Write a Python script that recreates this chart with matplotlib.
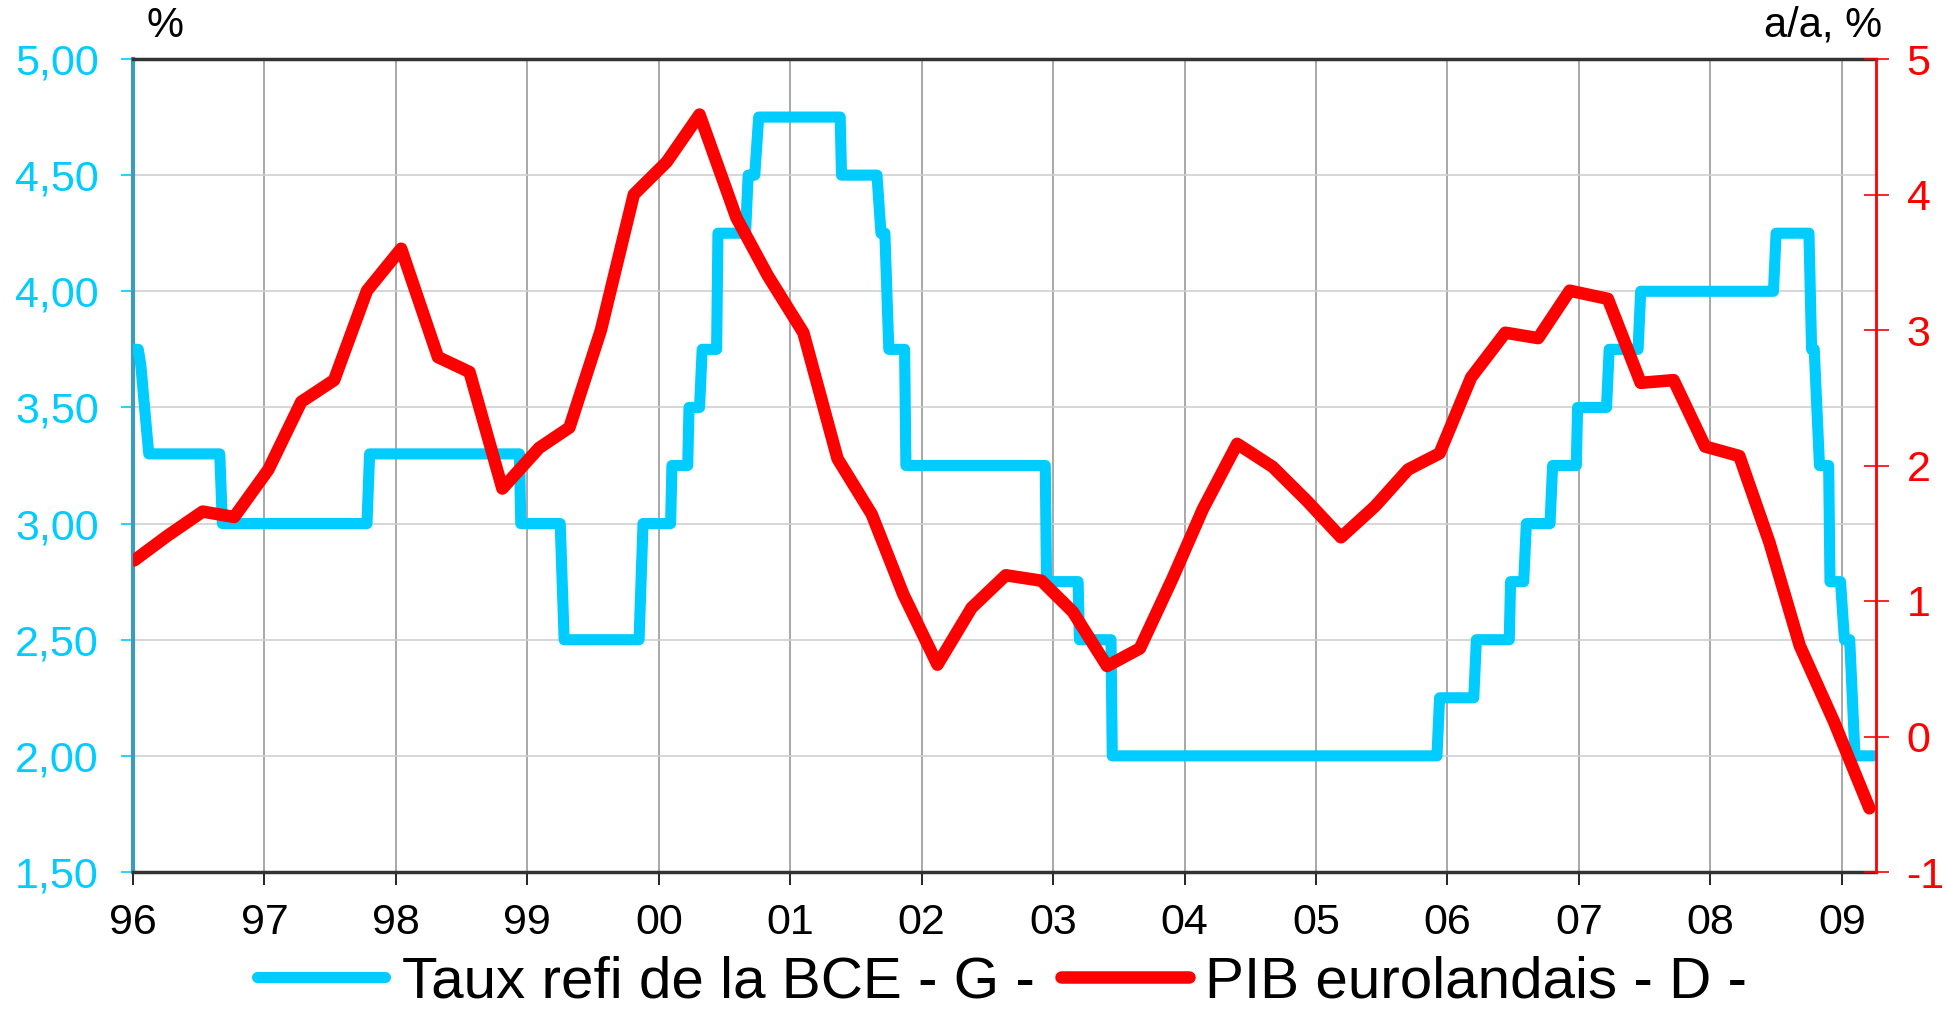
import matplotlib
matplotlib.use("Agg")
import matplotlib.pyplot as plt
import numpy as np

plt.rcParams['font.family'] = ['Liberation Sans', 'DejaVu Sans']

# ECB refi rate (left axis), polyline vertices
refi_dates = [1996.00, 1996.04, 1996.06, 1996.08, 1996.12, 1996.66, 1996.68, 1997.78, 1997.80,
              1998.94, 1998.95, 1999.25, 1999.28, 1999.85, 1999.88, 2000.09, 2000.10, 2000.22,
              2000.23, 2000.31, 2000.33, 2000.44, 2000.45, 2000.66, 2000.68, 2000.73, 2000.76,
              2001.38, 2001.39, 2001.66, 2001.69, 2001.72, 2001.75, 2001.87, 2001.88, 2002.94,
              2002.95, 2003.19, 2003.20, 2003.44, 2003.45, 2005.92, 2005.94, 2006.20, 2006.22,
              2006.47, 2006.48, 2006.58, 2006.60, 2006.78, 2006.80, 2006.98, 2006.99, 2007.21,
              2007.23, 2007.45, 2007.47, 2008.48, 2008.50, 2008.75, 2008.77, 2008.79, 2008.83,
              2008.90, 2008.91, 2008.99, 2009.02, 2009.06, 2009.10, 2009.25]
refi_values = [3.75, 3.75, 3.68, 3.55, 3.30, 3.30, 3.00, 3.00, 3.30,
               3.30, 3.00, 3.00, 2.50, 2.50, 3.00, 3.00, 3.25, 3.25,
               3.50, 3.50, 3.75, 3.75, 4.25, 4.25, 4.50, 4.50, 4.75,
               4.75, 4.50, 4.50, 4.25, 4.25, 3.75, 3.75, 3.25, 3.25,
               2.75, 2.75, 2.50, 2.50, 2.00, 2.00, 2.25, 2.25, 2.50,
               2.50, 2.75, 2.75, 3.00, 3.00, 3.25, 3.25, 3.50, 3.50,
               3.75, 3.75, 4.00, 4.00, 4.25, 4.25, 3.75, 3.75, 3.25,
               3.25, 2.75, 2.75, 2.50, 2.50, 2.00, 2.00]

# Euro-area GDP y/y (right axis), quarterly
gdp_dates = [1996.01, 1996.26, 1996.53, 1996.77, 1997.03, 1997.28, 1997.53, 1997.78, 1998.04,
             1998.32, 1998.56, 1998.81, 1999.09, 1999.32, 1999.56, 1999.81, 2000.06, 2000.31,
             2000.59, 2000.83, 2001.10, 2001.36, 2001.62, 2001.86, 2002.12, 2002.38, 2002.64,
             2002.91, 2003.15, 2003.41, 2003.66, 2003.91, 2004.14, 2004.40, 2004.67, 2004.93,
             2005.19, 2005.45, 2005.70, 2005.94, 2006.18, 2006.44, 2006.69, 2006.93, 2007.22,
             2007.47, 2007.72, 2007.96, 2008.22, 2008.45, 2008.68, 2008.94, 2009.21]
gdp_values = [1.30, 1.48, 1.66, 1.62, 1.97, 2.47, 2.63, 3.29, 3.60,
              2.80, 2.69, 1.83, 2.13, 2.28, 3.00, 4.00, 4.24, 4.59,
              3.83, 3.40, 2.98, 2.05, 1.64, 1.05, 0.53, 0.95, 1.19,
              1.15, 0.92, 0.52, 0.65, 1.17, 1.68, 2.16, 1.99, 1.74,
              1.47, 1.70, 1.97, 2.09, 2.65, 2.98, 2.94, 3.29, 3.23,
              2.61, 2.63, 2.14, 2.07, 1.43, 0.67, 0.11, -0.53]

year_ticks = list(range(1996, 2010))
year_labels = ["96", "97", "98", "99", "00", "01", "02", "03", "04", "05", "06", "07", "08", "09"]
left_ticks = [1.5, 2.0, 2.5, 3.0, 3.5, 4.0, 4.5, 5.0]
right_ticks = [-1, 0, 1, 2, 3, 4, 5]
series_labels = ["Taux refi de la BCE - G -", "PIB eurolandais - D -"]

BLUE = "#00CCFF"
RED = "#FF0000"

fig = plt.figure(figsize=(19.48, 10.15), dpi=100)
ax = fig.add_axes([133 / 1948, 1 - 872 / 1015, (1876 - 133) / 1948, (872 - 59) / 1015])

l1, = ax.plot(refi_dates, refi_values, color=BLUE, lw=8, solid_capstyle="round",
              solid_joinstyle="round", label=series_labels[0], zorder=3)
ax.set_xlim(1996, 2009.26)
ax.set_ylim(1.5, 5.0)
ax.set_xticks(year_ticks)
ax.set_xticklabels(year_labels)
ax.set_yticks(left_ticks)
ax.set_yticklabels([f"{v:.2f}".replace(".", ",") for v in left_ticks])
ax.grid(axis="x", color="#9a9a9a", lw=1.2)
ax.grid(axis="y", color="#cfcfcf", lw=1.2)
ax.set_axisbelow(True)

ax.tick_params(axis="y", colors=BLUE, labelcolor=BLUE, labelsize=31, length=9, width=1.2,
               direction="out", pad=15.5)
ax.tick_params(axis="x", colors="black", labelsize=31, length=9, width=1.2,
               direction="out", pad=13)
for s in ["top", "bottom"]:
    ax.spines[s].set_color("#333333")
    ax.spines[s].set_linewidth(2.5)
ax.spines["left"].set_color("#3d9bbd")
ax.spines["left"].set_linewidth(3)
ax.spines["right"].set_visible(False)

ax2 = ax.twinx()
l2, = ax2.plot(gdp_dates, gdp_values, color=RED, lw=9, solid_capstyle="round",
               solid_joinstyle="round", label=series_labels[1], zorder=3)
ax2.set_ylim(-1, 5)
ax2.set_yticks(right_ticks)
ax2.set_yticklabels([str(v) for v in right_ticks])
ax2.tick_params(axis="y", colors=RED, labelcolor=RED, labelsize=31, length=18, width=1.2,
                direction="inout", pad=13)
for s in ["top", "bottom", "left"]:
    ax2.spines[s].set_visible(False)
ax2.spines["right"].set_color(RED)
ax2.spines["right"].set_linewidth(2)

fig.text(165 / 1948, 1 - 26 / 1015, "%", ha="center", va="center", fontsize=30)
fig.text(1882 / 1948, 1 - 26 / 1015, "a/a, %", ha="right", va="center", fontsize=30)

fig.legend([l1, l2], series_labels, loc="center", bbox_to_anchor=(0.5145, 0.032), ncol=2,
           frameon=False, fontsize=42, handlelength=2.2, handletextpad=0.28,
           columnspacing=0.45, borderaxespad=0, borderpad=0)

fig.savefig("out.png", dpi=100)
